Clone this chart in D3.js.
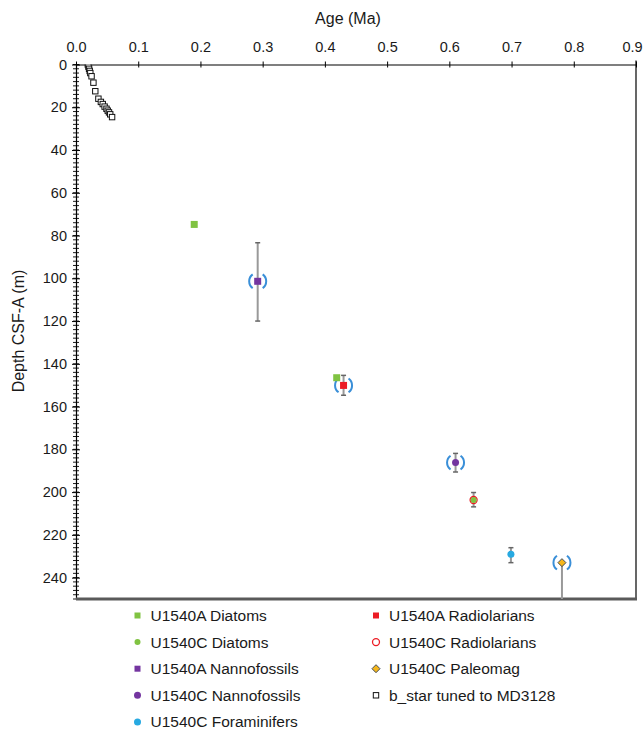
<!DOCTYPE html>
<html><head><meta charset="utf-8">
<script src="https://cdn.jsdelivr.net/npm/d3@7"></script>
<style>body{margin:0;background:#fff}svg{display:block}text{font-family:"Liberation Sans",Arial,sans-serif;fill:#1a1a1a}</style>
</head><body><svg id="c" width="644" height="729"></svg>
<script>
// ---- data: [age (Ma), depth (m), errTop, errBottom, bracketed]
const u1540aDiatoms = [[0.190, 74.8, null, null, 0], [0.419, 146.5, null, null, 0]];
const u1540cDiatoms = [[0.639, 203.7, null, null, 0]];
const u1540aNanno = [[0.292, 101.4, 83.4, 120.0, 1]];
const u1540cNanno = [[0.610, 186.2, 181.9, 190.6, 1]];
const u1540cForams = [[0.699, 229.1, 226.0, 233.0, 0]];
const u1540aRadio = [[0.430, 150.1, 145.4, 154.7, 1]];
const u1540cRadio = [[0.639, 203.7, 200.2, 206.9, 0]];
const u1540cPaleomag = [[0.781, 233.0, 233.0, 260, 1]];
const bStarAge = [0.019, 0.020, 0.021, 0.022, 0.023, 0.025, 0.028, 0.031, 0.036, 0.040, 0.043, 0.046, 0.049, 0.051, 0.053, 0.055, 0.058];
const bStarDepth = [0, 1, 2, 3, 4, 5.5, 8.5, 12.5, 16, 17.5, 18.5, 19.7, 20.7, 21.6, 22.4, 23.3, 24.6];
const xTicks = [0, 0.1, 0.2, 0.3, 0.4, 0.5, 0.6, 0.7, 0.8, 0.9];
const yTicks = [0, 20, 40, 60, 80, 100, 120, 140, 160, 180, 200, 220, 240];
const legendItems = [
  ["U1540A Diatoms", "sqGreen"], ["U1540A Radiolarians", "sqRed"],
  ["U1540C Diatoms", "cGreen"], ["U1540C Radiolarians", "ringRed"],
  ["U1540A Nannofossils", "sqPurple"], ["U1540C Paleomag", "diamond"],
  ["U1540C Nannofossils", "cPurple"], ["b_star tuned to MD3128", "openSq"],
  ["U1540C Foraminifers", "cCyan"]
];

const svg = d3.select("#c");
const L = 76, R = 636, T = 64.5, B = 599;
const x = d3.scaleLinear().domain([0, 0.9]).range([L, R]);
const y = d3.scaleLinear().domain([0, 250]).range([T, B]);
const FONT = '"Liberation Sans",Arial,sans-serif';

svg.append("defs").append("clipPath").attr("id", "clip")
  .append("rect").attr("x", L).attr("y", T).attr("width", R - L).attr("height", B - T);

// top axis
const axTop = svg.append("g").attr("transform", `translate(0,${T})`)
  .call(d3.axisTop(x).tickValues(xTicks).tickFormat(d3.format(".1f")).tickSize(4).tickSizeOuter(0));
axTop.select(".domain").attr("stroke", "#000").attr("stroke-width", 1.2);
axTop.selectAll(".tick line").attr("y1", 3).attr("y2", -3).attr("stroke", "#000");
axTop.selectAll(".tick text").attr("font-size", 14.5).attr("y", -13)
  .style("font-family", FONT).attr("fill", "#1a1a1a")
  .attr("dx", d => d === 0.9 ? -4 : 0);

// left axis minor ticks
const minor = d3.range(0, 251, 2);
svg.append("g").attr("transform", `translate(${L},0)`)
  .selectAll("line").data(minor).join("line")
  .attr("x1", -3).attr("x2", 3).attr("y1", d => y(d)).attr("y2", d => y(d))
  .attr("stroke", "#000").attr("stroke-width", 0.9);

const axLeft = svg.append("g").attr("transform", `translate(${L},0)`)
  .call(d3.axisLeft(y).tickValues(yTicks).tickSize(4).tickSizeOuter(0));
axLeft.select(".domain").attr("stroke", "#000").attr("stroke-width", 1.2);
axLeft.selectAll(".tick line").attr("x1", 4).attr("x2", -4).attr("stroke", "#000");
axLeft.selectAll(".tick text").attr("font-size", 14.5).attr("x", -9)
  .style("font-family", FONT).attr("fill", "#1a1a1a");

// right border & bottom line
svg.append("line").attr("x1", R).attr("x2", R).attr("y1", T - 4).attr("y2", B).attr("stroke", "#000").attr("stroke-width", 1.2);
svg.append("line").attr("x1", L).attr("x2", R + 1).attr("y1", B).attr("y2", B).attr("stroke", "#5a5a5a").attr("stroke-width", 3);

// titles
svg.append("text").attr("x", 348).attr("y", 24).attr("text-anchor", "middle").attr("font-size", 16).text("Age (Ma)");
svg.append("text").attr("transform", `translate(24,331) rotate(-90)`).attr("text-anchor", "middle").attr("font-size", 16).text("Depth CSF-A (m)");

const plot = svg.append("g").attr("clip-path", "url(#clip)");
const allSeries = [u1540aDiatoms, u1540cDiatoms, u1540aNanno, u1540cNanno, u1540cForams, u1540aRadio, u1540cRadio, u1540cPaleomag];

// error bars
allSeries.forEach(s => s.forEach(d => {
  if (d[2] == null) return;
  plot.append("line").attr("x1", x(d[0])).attr("x2", x(d[0])).attr("y1", y(d[2])).attr("y2", y(d[3]))
    .attr("stroke", "#999").attr("stroke-width", 2);
  [d[2], d[3]].forEach(v => plot.append("line").attr("x1", x(d[0]) - 2.5).attr("x2", x(d[0]) + 2.5)
    .attr("y1", y(v)).attr("y2", y(v)).attr("stroke", "#666").attr("stroke-width", 1.5));
}));

// brackets
allSeries.forEach(s => s.forEach(d => {
  if (!d[4]) return;
  const g = plot.append("g").attr("transform", `translate(${x(d[0])},${y(d[1])})`);
  const r = 8.5;
  const lp = d3.path(); lp.arc(0, 0, r, Math.PI * 0.7, Math.PI * 1.3);
  const rp = d3.path(); rp.arc(0, 0, r, -Math.PI * 0.3, Math.PI * 0.3);
  [lp, rp].forEach(p => g.append("path").attr("d", p.toString()).attr("fill", "none")
    .attr("stroke", "#3a8fd8").attr("stroke-width", 2));
}));

function marker(g, type, cx, cy) {
  switch (type) {
    case "sqGreen": return g.append("rect").attr("x", cx - 3.5).attr("y", cy - 3.5).attr("width", 7).attr("height", 7).attr("fill", "#80c342");
    case "sqPurple": return g.append("rect").attr("x", cx - 3.5).attr("y", cy - 3.5).attr("width", 7).attr("height", 7).attr("fill", "#7435a0");
    case "sqRed": return g.append("rect").attr("x", cx - 3.5).attr("y", cy - 3.5).attr("width", 7).attr("height", 7).attr("fill", "#ec1c24");
    case "cGreen": return g.append("circle").attr("cx", cx).attr("cy", cy).attr("r", 3).attr("fill", "#80c342");
    case "cPurple": return g.append("circle").attr("cx", cx).attr("cy", cy).attr("r", 3.5).attr("fill", "#7435a0");
    case "cCyan": return g.append("circle").attr("cx", cx).attr("cy", cy).attr("r", 3.5).attr("fill", "#27a9e1");
    case "ringRed": return g.append("circle").attr("cx", cx).attr("cy", cy).attr("r", 3.5).attr("fill", "none").attr("stroke", "#ec1c24").attr("stroke-width", 1.3);
    case "diamond": return g.append("path").attr("d", `M${cx},${cy - 4}L${cx + 4},${cy}L${cx},${cy + 4}L${cx - 4},${cy}Z`).attr("fill", "#f5b71c").attr("stroke", "#3f4a5a").attr("stroke-width", 1);
    case "openSq": return g.append("rect").attr("x", cx - 2.7).attr("y", cy - 2.7).attr("width", 5.4).attr("height", 5.4).attr("fill", "#fff").attr("stroke", "#111").attr("stroke-width", 1);
  }
}

bStarAge.forEach((a, i) => marker(plot, "openSq", x(a), y(bStarDepth[i])));
[[u1540aDiatoms, "sqGreen"], [u1540aNanno, "sqPurple"], [u1540aRadio, "sqRed"], [u1540cNanno, "cPurple"],
 [u1540cRadio, "ringRed"], [u1540cDiatoms, "cGreen"], [u1540cForams, "cCyan"], [u1540cPaleomag, "diamond"]]
  .forEach(([s, t]) => s.forEach(d => marker(plot, t, x(d[0]), y(d[1]))));

// legend
const leg = svg.append("g");
legendItems.forEach(([label, type], i) => {
  const col = i % 2, row = Math.floor(i / 2);
  const mx = col === 0 ? 137.5 : 376, ty = 615.5 + row * 26.6;
  const m = marker(leg, type, mx, ty);
  if (type.startsWith("sq")) m.attr("x", mx - 3).attr("y", ty - 3).attr("width", 6).attr("height", 6);
  leg.append("text").attr("x", mx + 13).attr("y", ty).attr("dy", "0.35em").attr("font-size", 15.5).text(label);
});
</script></body></html>
